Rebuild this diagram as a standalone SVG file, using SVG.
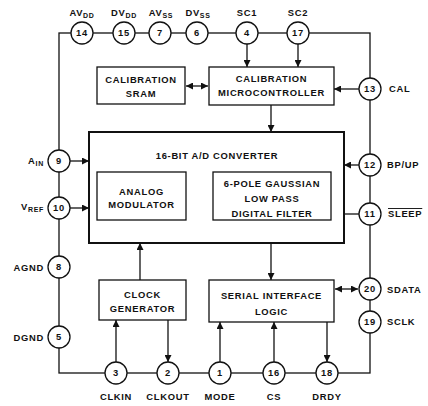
<svg xmlns="http://www.w3.org/2000/svg" width="428" height="406" viewBox="0 0 428 406">
<style>
text{font-family:"Liberation Sans",Arial,sans-serif;font-weight:bold;font-size:9.4px;letter-spacing:0.7px;fill:#111}
.c{text-anchor:middle}
.e{text-anchor:end}
.sub{font-size:7px}
.box{fill:#fff;stroke:#111;stroke-width:1.3}
.big{fill:#fff;stroke:#111;stroke-width:2}
.pin circle{fill:#fff;stroke:#111;stroke-width:1.3}
.ln{fill:none;stroke:#111;stroke-width:1.3}
.ar{fill:none;stroke:#111;stroke-width:1.3;marker-end:url(#ah)}
.da{fill:none;stroke:#111;stroke-width:1.3;marker-end:url(#ah);marker-start:url(#ah)}
</style>
<defs>
<marker id="ah" markerUnits="userSpaceOnUse" markerWidth="8" markerHeight="7" refX="7" refY="3.5" orient="auto-start-reverse">
<path d="M0,0 L7,3.5 L0,7 z" fill="#111"/>
</marker>
</defs>
<rect width="428" height="406" fill="#fff"/>
<g id="connectors">
<rect class="ln" x="59" y="33" width="311" height="340"/>
<line class="ar" x1="247" y1="44" x2="247" y2="67"/>
<line class="ar" x1="298" y1="44" x2="298" y2="67"/>
<line class="da" x1="186" y1="86" x2="208" y2="86"/>
<line class="ar" x1="359" y1="89" x2="334" y2="89"/>
<line class="ar" x1="271" y1="105" x2="271" y2="132"/>
<line class="ar" x1="70" y1="161" x2="89" y2="161"/>
<line class="ar" x1="70" y1="208" x2="89" y2="208"/>
<line class="ar" x1="359" y1="165" x2="344" y2="165"/>
<line class="ln" x1="344" y1="214" x2="359" y2="214"/>
<line class="ar" x1="186" y1="195" x2="213" y2="195"/>
<line class="ar" x1="140" y1="280" x2="140" y2="243"/>
<line class="ar" x1="271" y1="243" x2="271" y2="280"/>
<line class="ar" x1="116" y1="362" x2="116" y2="320"/>
<line class="ar" x1="168" y1="320" x2="168" y2="362"/>
<line class="ar" x1="220" y1="362" x2="220" y2="322"/>
<line class="ar" x1="274" y1="362" x2="274" y2="322"/>
<line class="ar" x1="327" y1="322" x2="327" y2="362"/>
<line class="da" x1="335" y1="289" x2="358" y2="289"/>
</g>
<g id="cal-sram"><rect class="box" x="97" y="67" width="88" height="37"/><text class="c" x="141" y="83">CALIBRATION</text><text class="c" x="141" y="97">SRAM</text></g>
<g id="cal-micro"><rect class="box" x="209" y="67" width="125" height="38"/><text class="c" x="271.5" y="82">CALIBRATION</text><text class="c" x="271.5" y="96">MICROCONTROLLER</text></g>
<g id="adc"><rect class="big" x="89" y="132" width="255" height="111"/><text class="c" x="217" y="159">16-BIT A/D CONVERTER</text></g>
<g id="modulator"><rect class="box" x="97" y="172" width="89" height="48"/><text class="c" x="141.5" y="195">ANALOG</text><text class="c" x="141.5" y="208">MODULATOR</text></g>
<g id="filter"><rect class="box" x="213" y="172" width="118" height="48"/><text class="c" x="272" y="187">6-POLE GAUSSIAN</text><text class="c" x="272" y="202">LOW PASS</text><text class="c" x="272" y="217">DIGITAL FILTER</text></g>
<g id="clock"><rect class="box" x="99" y="280" width="87" height="40"/><text class="c" x="142.5" y="298">CLOCK</text><text class="c" x="142.5" y="312">GENERATOR</text></g>
<g id="serial"><rect class="box" x="209" y="280" width="125" height="42"/><text class="c" x="271.5" y="299">SERIAL INTERFACE</text><text class="c" x="271.5" y="315">LOGIC</text></g>
<g class="pin" id="pin14"><circle cx="82" cy="33" r="11"/><text class="c" x="82" y="36">14</text><text class="c" x="82" y="16">AV<tspan class="sub" dy="2">DD</tspan></text></g>
<g class="pin" id="pin15"><circle cx="124" cy="33" r="11"/><text class="c" x="124" y="36">15</text><text class="c" x="124" y="16">DV<tspan class="sub" dy="2">DD</tspan></text></g>
<g class="pin" id="pin7"><circle cx="160" cy="33" r="11"/><text class="c" x="160" y="36">7</text><text class="c" x="161" y="16">AV<tspan class="sub" dy="2">SS</tspan></text></g>
<g class="pin" id="pin6"><circle cx="197" cy="33" r="11"/><text class="c" x="197" y="36">6</text><text class="c" x="198" y="16">DV<tspan class="sub" dy="2">SS</tspan></text></g>
<g class="pin" id="pin4"><circle cx="247" cy="33" r="11"/><text class="c" x="247" y="36">4</text><text class="c" x="247" y="16">SC1</text></g>
<g class="pin" id="pin17"><circle cx="298" cy="33" r="11"/><text class="c" x="298" y="36">17</text><text class="c" x="298" y="16">SC2</text></g>
<g class="pin" id="pin13"><circle cx="370" cy="89" r="11"/><text class="c" x="370" y="92">13</text><text x="389" y="92">CAL</text></g>
<g class="pin" id="pin12"><circle cx="370" cy="165" r="11"/><text class="c" x="370" y="168">12</text><text x="387" y="168">BP/UP</text></g>
<g class="pin" id="pin11"><circle cx="370" cy="214" r="11"/><text class="c" x="370" y="217">11</text><text x="388" y="217" text-decoration="overline">SLEEP</text></g>
<g class="pin" id="pin20"><circle cx="370" cy="289" r="11"/><text class="c" x="370" y="292">20</text><text x="387" y="293">SDATA</text></g>
<g class="pin" id="pin19"><circle cx="370" cy="322" r="11"/><text class="c" x="370" y="325">19</text><text x="387" y="325">SCLK</text></g>
<g class="pin" id="pin9"><circle cx="59" cy="161" r="11"/><text class="c" x="59" y="164">9</text><text class="e" x="44" y="164">A<tspan class="sub" dy="2">IN</tspan></text></g>
<g class="pin" id="pin10"><circle cx="59" cy="208" r="11"/><text class="c" x="59" y="211">10</text><text class="e" x="44" y="210">V<tspan class="sub" dy="2">REF</tspan></text></g>
<g class="pin" id="pin8"><circle cx="59" cy="267" r="11"/><text class="c" x="59" y="270">8</text><text class="e" x="44" y="271">AGND</text></g>
<g class="pin" id="pin5"><circle cx="59" cy="337" r="11"/><text class="c" x="59" y="340">5</text><text class="e" x="44" y="341">DGND</text></g>
<g class="pin" id="pin3"><circle cx="116" cy="373" r="11"/><text class="c" x="116" y="376">3</text><text class="c" x="116" y="400">CLKIN</text></g>
<g class="pin" id="pin2"><circle cx="168" cy="373" r="11"/><text class="c" x="168" y="376">2</text><text class="c" x="168" y="400">CLKOUT</text></g>
<g class="pin" id="pin1"><circle cx="220" cy="373" r="11"/><text class="c" x="220" y="376">1</text><text class="c" x="220" y="400">MODE</text></g>
<g class="pin" id="pin16"><circle cx="274" cy="373" r="11"/><text class="c" x="274" y="376">16</text><text class="c" x="274" y="400">CS</text></g>
<g class="pin" id="pin18"><circle cx="327" cy="373" r="11"/><text class="c" x="327" y="376">18</text><text class="c" x="327" y="400">DRDY</text></g>
</svg>
